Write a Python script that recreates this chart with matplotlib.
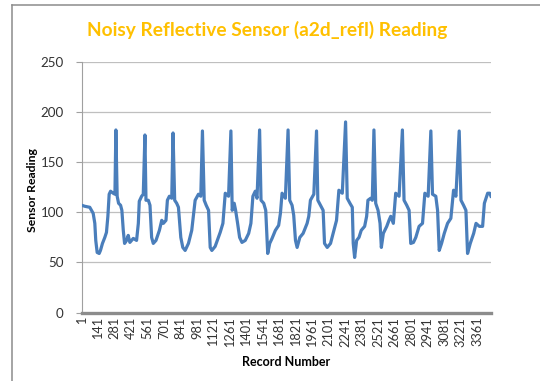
import matplotlib
matplotlib.use("Agg")
import matplotlib.pyplot as plt
from matplotlib.lines import Line2D

# reflective sensor log: record number -> a2d_refl reading
record_no = [
    1, 27, 69, 84, 98, 112, 120, 132, 149, 160, 177, 197, 211, 223, 234, 246, 268, 283, 291, 302,
    314, 331, 342, 354, 365, 382, 396, 410, 439, 467, 482, 490, 510, 524, 538, 547, 567, 581, 595,
    609, 632, 661, 681, 695, 717, 729, 746, 766, 777, 791, 808, 823, 843, 860, 880, 908, 936, 965,
    993, 1013, 1027, 1042, 1059, 1079, 1093, 1107, 1135, 1178, 1201, 1212, 1221, 1249, 1269, 1280,
    1297, 1309, 1326, 1343, 1363, 1391, 1420, 1439, 1456, 1476, 1491, 1513, 1525, 1548, 1565, 1582,
    1599, 1619, 1647, 1675, 1690, 1704, 1732, 1755, 1769, 1789, 1803, 1818, 1832, 1855, 1883, 1917,
    1931, 1945, 1974, 1997, 2008, 2031, 2053, 2065, 2088, 2116, 2145, 2167, 2187, 2216, 2244, 2258,
    2281, 2301, 2309, 2321, 2338, 2358, 2377, 2406, 2423, 2434, 2457, 2471, 2485, 2500, 2520, 2537,
    2548, 2565, 2594, 2613, 2628, 2650, 2670, 2699, 2727, 2741, 2764, 2784, 2798, 2821, 2841, 2869,
    2898, 2918, 2946, 2969, 2983, 3011, 3026, 3040, 3060, 3083, 3111, 3139, 3162, 3182, 3210, 3225,
    3247, 3267, 3281, 3304, 3333, 3353, 3381, 3409, 3424, 3452, 3470, 3480,
]
reading = [
    107, 106, 105, 102, 99, 89, 72, 60, 59, 62, 69, 75, 80, 96, 118, 121, 119, 118, 182, 116,
    109, 107, 102, 82, 69, 72, 77, 70, 74, 72, 89, 111, 116, 118, 177, 112, 112, 107, 75,
    69, 72, 82, 92, 89, 92, 112, 116, 114, 179, 112, 109, 105, 75, 65, 62, 69, 82, 112,
    118, 116, 181, 112, 107, 102, 65, 62, 66, 80, 89, 105, 119, 116, 181, 102,
    109, 102, 89, 75, 70, 72, 79, 89, 116, 121, 114, 182, 112, 109, 102, 59,
    69, 74, 82, 87, 99, 119, 114, 182, 112, 107, 97, 72, 65, 75, 79, 89,
    96, 112, 118, 181, 112, 107, 102, 69, 65, 69, 82, 92, 122, 119, 190, 114,
    109, 105, 69, 55, 72, 75, 82, 86, 96, 112, 114, 112, 182, 109, 102, 89,
    65, 79, 86, 92, 96, 89, 119, 116, 182, 112, 107, 102, 69, 70, 75, 86,
    89, 119, 116, 181, 118, 116, 102, 62, 69, 79, 89, 94, 122, 116, 181, 112,
    107, 102, 59, 69, 79, 89, 86, 86, 109, 119, 119, 116,
]

n_records = 3480
tick_records = list(range(1, n_records, 140))
y_ticks = [0, 50, 100, 150, 200, 250]

plt.rcParams['font.family'] = ['Lato', 'DejaVu Sans']

fig = plt.figure(figsize=(5.4, 3.81), dpi=100)
ax = fig.add_axes([0.1513, 0.1793, 0.7580, 0.6587])

ax.plot(record_no, reading, color='#4A7EBB', lw=2.3, solid_joinstyle='round', zorder=3)

ax.set_xlim(0.5, n_records + 0.5)
ax.set_ylim(0, 250)
ax.set_yticks(y_ticks)
ax.set_xticks(tick_records)
ax.set_xticklabels([str(t) for t in tick_records], rotation=90, fontsize=9.2, color='#333333')
ax.tick_params(axis='x', length=0, pad=3)
ax.tick_params(axis='y', length=4, width=0.8, color='#A0A0A0', labelsize=9.6,
               labelcolor='#333333', pad=9)

ax.grid(axis='y', color='#BFBFBF', lw=0.9)
ax.set_axisbelow(True)
for side in ['top', 'right']:
    ax.spines[side].set_visible(False)
ax.spines['left'].set_color('#A0A0A0')
ax.spines['left'].set_linewidth(0.8)
ax.spines['bottom'].set_color('#8C8C8C')
ax.spines['bottom'].set_linewidth(2.4)
ax.spines['bottom'].set_zorder(4)

ax.set_xlabel('Record Number', fontsize=9, fontweight='bold', labelpad=7)
ax.set_ylabel('Sensor Reading', fontsize=8.8, fontweight='bold')
ax.yaxis.set_label_coords(-0.107, 0.49)

fig.text(0.495, 0.922, 'Noisy Reflective Sensor (a2d_refl) Reading', ha='center', va='center',
         fontsize=13.8, fontweight='bold', color='#FFC000')

# chart area border (top and left edges)
fig.add_artist(Line2D([12 / 540, 1.0], [1 - 5 / 381, 1 - 5 / 381], transform=fig.transFigure,
                      color='#8C8C8C', lw=1.1))
fig.add_artist(Line2D([12 / 540, 12 / 540], [0.0, 1 - 5 / 381], transform=fig.transFigure,
                      color='#8C8C8C', lw=1.1))

fig.savefig('out.png', dpi=100)
